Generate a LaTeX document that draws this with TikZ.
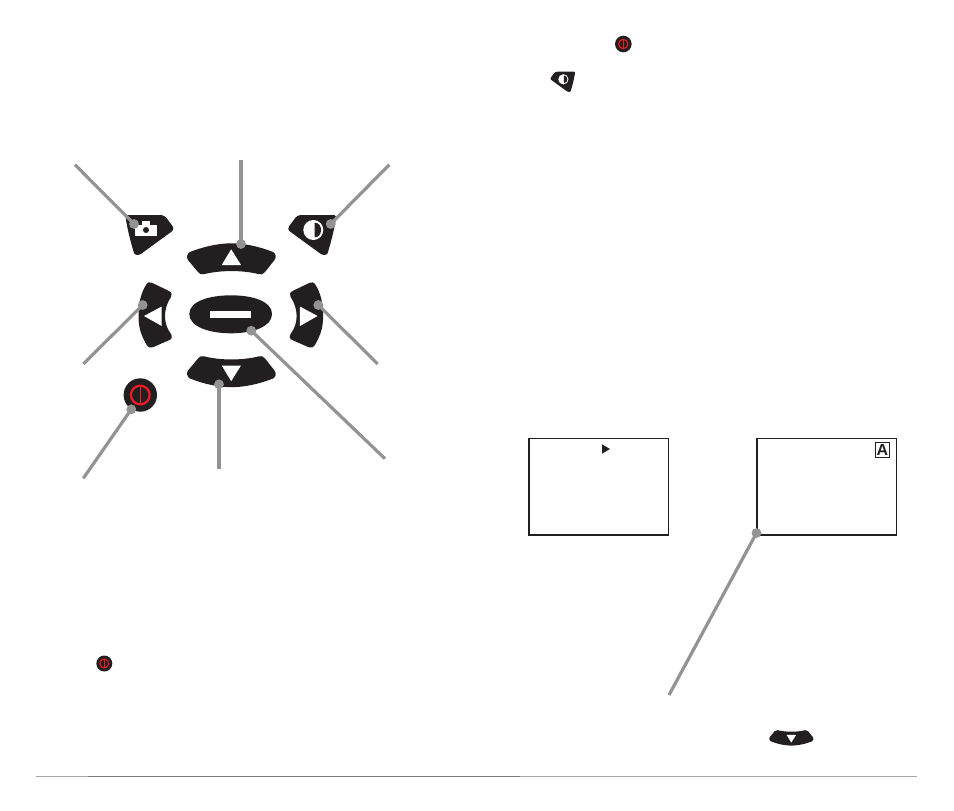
\documentclass[tikz,border=0pt]{standalone}
\usepackage{fontspec}
\setmainfont{Liberation Sans}
\definecolor{btn}{HTML}{231F20}
\definecolor{lead}{HTML}{939393}
\definecolor{pwr}{HTML}{ED1C24}
\newcommand{\upBtnShape}{%
  \fill[btn] (190,252) .. controls (205,246) and (220,243.3) .. (231.5,243.3)
    .. controls (243,243.3) and (258,246) .. (273,252)
    .. controls (276,253.5) and (276.5,257) .. (274.5,260)
    -- (265,272) .. controls (263,274.5) and (261,274.8) .. (259,274.2)
    .. controls (243,270) and (220,270) .. (204,274.2)
    .. controls (201,274.8) and (199.5,274) .. (198,272)
    -- (188,260) .. controls (186.3,257.5) and (187,253.5) .. (190,252) -- cycle;
  \fill[white] (231.2,249.3) -- (221.7,265) -- (241,265) -- cycle;}
\newcommand{\downBtnShape}{\begin{scope}[shift={(0,630.5)},yscale=-1]\upBtnShape\end{scope}}
\newcommand{\sideBtnShape}{%
  \fill[btn] (138.5,316) .. controls (138.5,303) and (141,293) .. (146,285)
    .. controls (147.5,282) and (150,281.8) .. (152,282.8)
    -- (169,291) .. controls (172,292.5) and (172.3,295) .. (171,297)
    .. controls (166.5,304) and (165,310) .. (165,316)
    .. controls (165,322) and (166.5,328) .. (171,334)
    .. controls (172.5,337) and (172,339) .. (169,340.2)
    -- (153,347.2) .. controls (150,348.2) and (148,347.5) .. (147,345.5)
    .. controls (141,335) and (138.5,328) .. (138.5,316) -- cycle;
  \fill[white] (144,316) -- (161.7,306.5) -- (161.7,326) -- cycle;}
\newcommand{\cornerBtnShape}{%
  \fill[btn] (127.5,215) -- (160,215) .. controls (164,215) and (166,217) .. (168,220)
    -- (172.5,226) .. controls (174,228) and (173.7,230) .. (172,231.3)
    -- (141.5,253.5) .. controls (138.5,255.7) and (135,255.3) .. (134,253)
    .. controls (131,243) and (128,232) .. (126,220)
    .. controls (125.3,217) and (125.7,215) .. (127.5,215) -- cycle;}
\newcommand{\contrastBtn}{%
  \begin{scope}[shift={(461.7,0)},xscale=-1]\cornerBtnShape\end{scope}
  \fill[white] (313.3,230) circle (10);
  \fill[btn] (314.5,222.7) .. controls (319,222.7) and (321,226) .. (321,230)
    .. controls (321,234) and (319,237.3) .. (314.5,237.3) -- cycle;}
\newcommand{\powerBtn}[3]{% cx, cy, r
  \fill[btn] (#1,#2) circle (#3);
  \draw[pwr,line width={#3*0.1pt}] (#1,#2) circle ({#3*0.56});
  \draw[pwr,line width={#3*0.07pt}] (#1,{#2-#3*0.56}) -- (#1,{#2+#3*0.56});}
\tikzset{
  x=0.75pt,y=-0.75pt,
  leadline/.style={draw=lead,line width=2.4pt},
  leadthick/.style={draw=lead,line width=3pt},
  leaddot/.style={fill=lead},
  screenbox/.style={draw=btn,line width=1.1pt},
  screenbase/.style={draw=btn,line width=1.6pt},
}
\begin{document}
\begin{tikzpicture}
\useasboundingbox (0,0) rectangle (954,811);
\fill[white] (0,0) rectangle (954,811);
% rule
\draw[draw=black!35,line width=1pt] (36,776.5) -- (917,776.5);
\draw[draw=black!52,line width=1pt] (88,776.5) -- (520,776.5);
% keypad
\upBtnShape
\downBtnShape
\sideBtnShape
\begin{scope}[shift={(461.6,0)},xscale=-1]\sideBtnShape\end{scope}
\cornerBtnShape
\fill[white] (135,225) rectangle (157.3,235.7);
\fill[white] (141.7,221) rectangle (150,225.5);
\fill[btn] (146,230) circle (3);
\contrastBtn
\fill[btn] (189.3,314) .. controls (189.3,301) and (210,295.3) .. (231,295.3)
  .. controls (252,295.3) and (272,301) .. (272,314)
  .. controls (272,327) and (252,333.3) .. (231,333.3)
  .. controls (210,333.3) and (189.3,327) .. (189.3,314) -- cycle;
\fill[white] (210,311) rectangle (251,317.7);
\powerBtn{140.3}{395}{16.7}
% small inline keys
\powerBtn{623.3}{44}{8.3}
\powerBtn{104.3}{663.5}{8}
\begin{scope}[shift={(403.6,-38)},scale=0.51]\contrastBtn\end{scope}
\begin{scope}[shift={(675.65,552)},scale=0.5]\downBtnShape\end{scope}
% screens
\draw[screenbox] (528.8,535.2) -- (528.8,438.3) -- (668.6,438.3) -- (668.6,535.2);
\draw[screenbase] (528,535.2) -- (669.2,535.2);
\draw[screenbox] (756.8,535.2) -- (756.8,438.3) -- (896.6,438.3) -- (896.6,535.2);
\draw[screenbase] (756,535.2) -- (897.2,535.2);
\fill[btn] (602,444.3) -- (602,453.7) -- (610,449) -- cycle;
\node[name=autoA,draw=btn,line width=0.7pt,minimum width=10.6pt,minimum height=11.4pt,inner sep=0pt,font=\bfseries\fontsize{12}{12}\selectfont,text=btn] at (882.5,450) {A};
% leaders
\coordinate (camS) at (75,164.7);   \coordinate (camD) at (134,224);
\coordinate (upS) at (241,160);     \coordinate (upD) at (241,244);
\coordinate (conS) at (389.3,164.7);\coordinate (conD) at (330.7,224);
\coordinate (lftS) at (83.3,364);   \coordinate (lftD) at (142.7,305);
\coordinate (rgtS) at (377.7,364);  \coordinate (rgtD) at (318.3,305);
\coordinate (cenS) at (385,458.7);  \coordinate (cenD) at (251.3,330.7);
\coordinate (dwnS) at (219,468.7);  \coordinate (dwnD) at (219,384.3);
\coordinate (powS) at (83.3,478.3); \coordinate (powD) at (131.3,409.3);
\coordinate (scrS) at (669,695);    \coordinate (scrD) at (756.5,533);
\draw[leadline] (camS) -- (camD);
\draw[leadthick] (upS) -- (upD);
\draw[leadline] (conS) -- (conD);
\draw[leadline] (lftS) -- (lftD);
\draw[leadline] (rgtS) -- (rgtD);
\draw[leadline] (cenS) -- (cenD);
\draw[leadthick] (dwnS) -- (dwnD);
\draw[leadline] (powS) -- (powD);
\draw[leadline] (scrS) -- (scrD);
\foreach \d in {camD,upD,conD,lftD,rgtD,cenD,dwnD,powD,scrD}
  \fill[leaddot] (\d) circle (4.9);
\end{tikzpicture}
\end{document}
